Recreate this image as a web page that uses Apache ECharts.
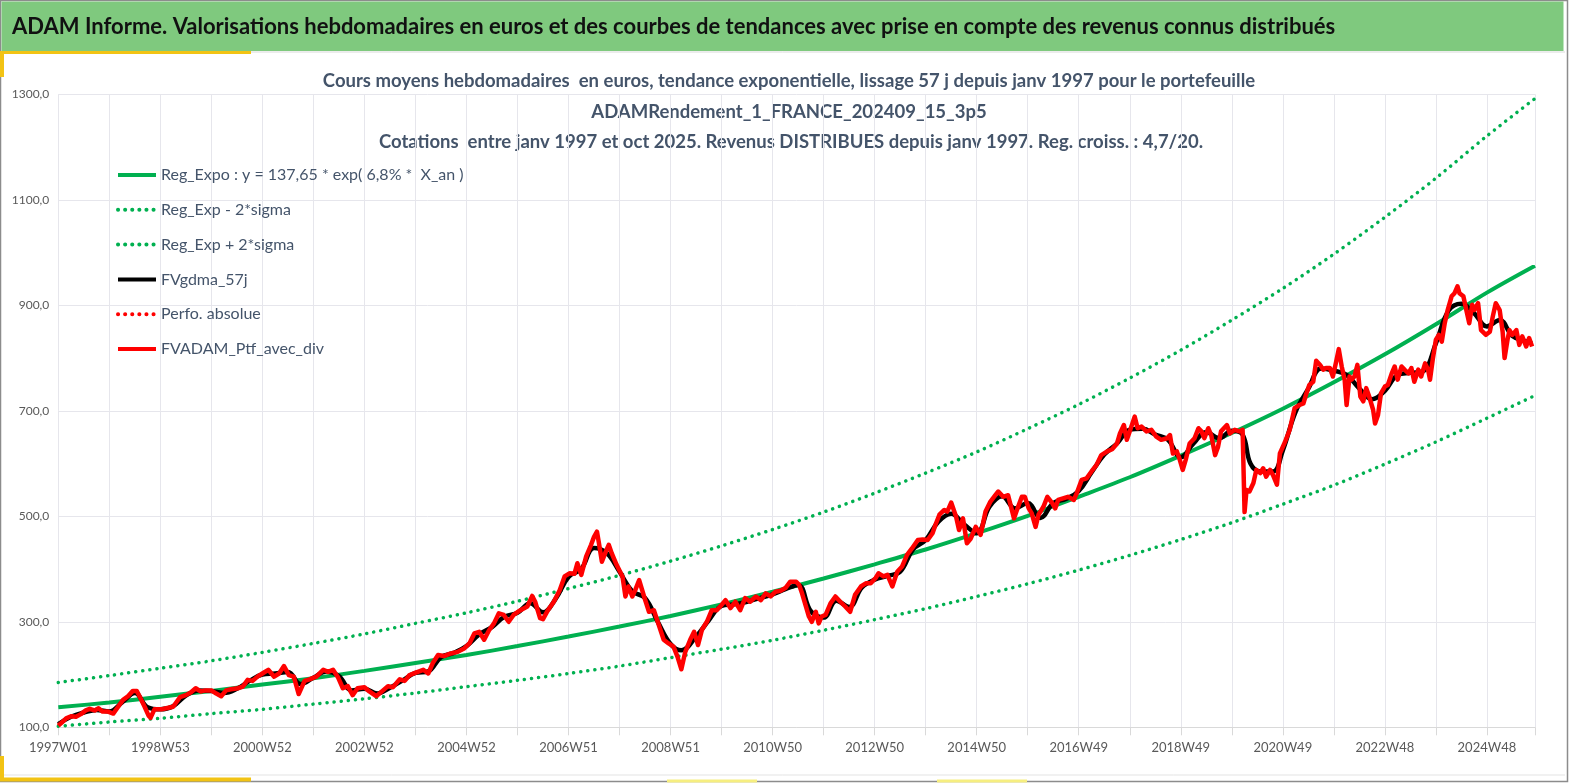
<!DOCTYPE html>
<html>
<head>
<meta charset="utf-8" />
<title>ADAM Informe</title>
<script src="https://cdn.jsdelivr.net/npm/echarts@6/dist/echarts.min.js"></script>
<style>
  html, body { margin: 0; padding: 0; background: #fff; }
  #chart { width: 1569px; height: 783px; }
</style>
</head>
<body>
<div id="chart"></div>
<script>
// x = numero de semaine depuis 1997W01
var xTickLabels = ['1997W01', '1998W53', '2000W52', '2002W52', '2004W52', '2006W51', '2008W51',
  '2010W50', '2012W50', '2014W50', '2016W49', '2018W49', '2020W49', '2022W48', '2024W48'];
var lastWeek = 1505;

// courbes de tendance (lues une fois par an)
var trendWeeks = [0, 52, 104, 156, 208, 260, 312, 364, 416, 468, 520, 572, 624, 676, 728,
  780, 832, 884, 936, 988, 1040, 1092, 1144, 1196, 1248, 1300, 1352, 1404, 1456, 1505];
var regExpo = [138, 147, 158, 169, 181, 193, 207, 222, 237, 254, 272, 291, 311, 333, 357,
  382, 409, 437, 468, 501, 537, 574, 615, 658, 704, 754, 807, 864, 924, 975];
var regMoins = [102, 110, 117, 126, 134, 144, 154, 165, 177, 189, 202, 216, 232, 248, 265,
  284, 304, 325, 348, 372, 398, 426, 456, 488, 523, 559, 599, 641, 686, 729];
var regPlus = [185, 198, 212, 226, 242, 259, 277, 297, 317, 339, 363, 388, 415, 444, 475,
  508, 544, 582, 622, 666, 712, 762, 815, 872, 932, 997, 1067, 1141, 1221, 1292];

// FVADAM_Ptf_avec_div : [semaine, valeur]
var ptf1997 = [[0,103],[4,110],[8,117],[13,121],[18,120],[23,125],[28,132],[32,135],[37,132],[41,136],
  [45,130],[50,130],[56,126],[61,139],[66,152],[71,159],[76,169],[80,169],[83,158],[88,139],[92,122],
  [94,118],[98,134],[105,134],[110,136],[117,139],[124,157],[130,161],[135,166],[140,174],[145,168],
  [150,170],[156,170],[161,164],[166,159],[171,170],[176,172],[183,174],[188,177],[193,190],[198,188],
  [203,196],[208,202],[214,209],[220,196],[225,202],[230,216],[235,199],[240,196],[245,163],[247,161],
  [251,188],[256,191],[263,196],[270,209],[275,205],[280,209],[285,195],[290,174],[295,178],[300,161],
  [305,174],[312,176],[317,168],[324,159],[331,170],[336,178],[341,176],[348,191],[353,188],[358,199],
  [365,204],[372,209],[377,202],[382,223],[387,237],[393,235],[400,240],[407,243],[414,250],[419,259],
  [424,278],[429,281],[434,266],[439,284],[444,297],[449,316],[454,313],[459,300],[464,313],[471,322],
  [478,329],[483,349],[486,338],[491,307]];
var ptf2006 = [[494,305],[499,322],[505,338],[511,360],[516,386],[521,392],[526,391],[529,411],[533,389],
  [538,424],[543,446],[546,461],[549,471],[551,449],[554,414],[558,433],[561,446],[564,430],[569,408],
  [575,386],[578,348],[581,367],[585,348],[588,360],[592,379],[597,348],[602,319],[607,322],[612,294],
  [617,266],[622,259],[627,253],[631,234],[635,210],[639,243],[644,266],[648,281],[652,256],[656,285],
  [661,300],[666,322],[671,322],[676,332],[680,341],[685,326],[690,338],[695,322],[700,345],[705,338],
  [711,348],[716,341],[721,354],[726,348],[731,357],[736,359],[741,364],[746,376],[752,376],[755,370],
  [758,354],[762,329],[765,310],[768,300],[772,319],[775,297],[778,310],[782,313],[787,335],[792,348],
  [797,338],[802,329],[807,319],[812,351],[818,367],[823,373],[828,373],[833,383],[836,392],[841,386],
  [845,389],[850,367],[855,395],[860,405],[865,427],[870,439],[876,455],[881,456],[886,455],[891,468],
  [894,484],[898,503],[903,512],[906,509],[910,526],[915,499],[918,474],[922,496],[926,449],[930,458],
  [935,480],[940,465],[945,509]];
var ptf2015 = [[950,528],[955,540],[958,547],[963,537],[968,540],[974,496],[977,512],[982,537],[985,537],
  [989,515],[992,506],[996,480],[999,503],[1004,518],[1008,537],[1013,525],[1016,515],[1019,531],[1024,534],
  [1029,537],[1035,531],[1038,544],[1043,569],[1048,572],[1053,585],[1058,597],[1063,616],[1069,623],
  [1074,627],[1079,638],[1082,657],[1086,673],[1089,645],[1092,661],[1097,689],[1100,667],[1104,670],
  [1109,661],[1114,664],[1119,651],[1124,645],[1130,648],[1133,654],[1136,619],[1140,623],[1143,607],
  [1146,588],[1149,607],[1153,638],[1158,648],[1162,667],[1165,661],[1168,648],[1172,667],[1175,654],
  [1179,616],[1182,632],[1185,661],[1191,673],[1194,657],[1199,664],[1204,661],[1207,664],[1209,508],
  [1211,550],[1214,547],[1218,563],[1221,588],[1225,582],[1228,591],[1231,575],[1235,588],[1238,578],
  [1242,560],[1245,619],[1250,640]];
var ptf2021 = [[1255,664],[1260,705],[1265,711],[1269,714],[1272,733],[1275,749],[1279,755],[1282,795],
  [1286,787],[1289,778],[1292,781],[1296,781],[1299,765],[1302,790],[1305,817],[1308,784],[1311,759],
  [1313,711],[1316,765],[1318,759],[1321,765],[1324,787],[1327,727],[1330,718],[1333,743],[1336,727],
  [1340,702],[1342,676],[1345,692],[1348,733],[1352,746],[1355,749],[1359,771],[1362,784],[1365,759],
  [1369,784],[1372,778],[1376,771],[1379,781],[1382,755],[1386,778],[1389,765],[1393,790],[1396,778],
  [1398,759],[1401,800],[1404,835],[1407,844],[1410,831],[1413,866],[1416,891],[1420,917],[1423,923],
  [1426,936],[1428,923],[1432,917],[1435,891],[1438,866],[1441,901],[1443,891],[1447,904],[1450,853],
  [1455,844],[1459,850],[1462,879],[1465,904],[1469,891],[1472,850],[1474,800],[1477,835],[1479,853],
  [1482,844],[1486,853],[1489,825],[1492,841],[1496,822],[1499,838],[1502,822]];

// FVgdma_57j (moyenne lissee), lue par trimestre
var gdma57 = [[0,106],[13,120],[26,128],[39,133],[52,130],[65,147],[78,165],[91,138],[104,134],[117,140],
  [130,160],[143,170],[156,169],[169,165],[182,173],[195,188],[208,200],[221,202],[234,205],[247,182],
  [260,194],[273,206],[286,197],[299,170],[312,173],[325,164],[338,175],[351,189],[364,203],[377,206],
  [390,233],[403,241],[416,254],[429,276],[442,290],[455,310],[468,317],[481,335],[494,318],[507,344],
  [520,385],[533,400],[546,440],[559,430],[572,395],[585,358],[598,345],[611,300],[624,258],[635,246],
  [650,272],[663,303],[676,330],[689,333],[702,338],[715,345],[728,352],[741,362],[754,370],[767,320],
  [780,308],[793,340],[806,328],[819,365],[832,380],[845,387],[858,395],[871,437],[884,455],[897,490],
  [910,505],[923,485],[936,468],[949,518],[962,538],[975,515],[988,525],[1001,497],[1014,525],[1027,533],
  [1040,548],[1053,583],[1066,617],[1079,638],[1092,664],[1105,666],[1118,655],[1131,645],[1144,612],
  [1157,638],[1170,660],[1183,648],[1196,662],[1207,655],[1215,600],[1225,585],[1238,585],[1248,625],
  [1261,698],[1274,742],[1287,780],[1300,776],[1313,768],[1326,742],[1339,722],[1352,738],[1365,768],
  [1378,772],[1391,775],[1404,828],[1417,890],[1430,903],[1443,885],[1456,860],[1469,872],[1482,842],
  [1495,832],[1502,828]];

function pairs(xs, ys) {
  return xs.map(function (x, i) { return [x, ys[i]]; });
}

var textColor = '#44546a';
var font = 'Lato, "Open Sans", sans-serif';
var greenCol = '#00b050';
var dotted = [0.1, 7];

var myChart = echarts.init(document.getElementById('chart'));
var option = {
  backgroundColor: '#ffffff',
  animation: false,
  textStyle: { fontFamily: font },
  graphic: [
    // cadre et bandeau vert
    { type: 'rect', shape: { x: 0.5, y: 0.5, width: 1567, height: 781 },
      style: { fill: '#ffffff', stroke: '#8c8c8c', lineWidth: 1.5 }, z: -10 },
    { type: 'rect', shape: { x: 1.5, y: 1.5, width: 1562, height: 49.5 },
      style: { fill: '#7fc97e' }, z: -9 },
    { type: 'line', shape: { x1: 0, y1: 52, x2: 1565, y2: 52 }, style: { stroke: '#d9d9d9', lineWidth: 1 }, z: -9 },
    { type: 'line', shape: { x1: 0, y1: 775, x2: 1565, y2: 775 }, style: { stroke: '#e3e3e3', lineWidth: 1 }, z: -9 },
    { type: 'line', shape: { x1: 0, y1: 52.5, x2: 251, y2: 52.5 }, style: { stroke: '#f2c314', lineWidth: 3 }, z: -8 },
    { type: 'line', shape: { x1: 2, y1: 52, x2: 2, y2: 77 }, style: { stroke: '#f2c314', lineWidth: 4 }, z: -8 },
    { type: 'line', shape: { x1: 2, y1: 756, x2: 2, y2: 780 }, style: { stroke: '#f2c314', lineWidth: 4 }, z: -8 },
    { type: 'line', shape: { x1: 0, y1: 779.5, x2: 251, y2: 779.5 }, style: { stroke: '#f2c314', lineWidth: 4 }, z: -8 },
    { type: 'line', shape: { x1: 667, y1: 781, x2: 757, y2: 781 }, style: { stroke: '#f6ee80', lineWidth: 3 }, z: -8 },
    { type: 'line', shape: { x1: 937, y1: 781, x2: 1027, y2: 781 }, style: { stroke: '#f6ee80', lineWidth: 3 }, z: -8 },
    // titres
    { type: 'text', style: { x: 12, y: 27, text: 'ADAM Informe. Valorisations hebdomadaires en euros et des courbes de tendances avec prise en compte des revenus connus distribués',
      fill: '#111111', font: 'bold 22px ' + font, verticalAlign: 'middle' } },
    { type: 'text', style: { x: 789, y: 81, text: 'Cours moyens hebdomadaires  en euros, tendance exponentielle, lissage 57 j depuis janv 1997 pour le portefeuille',
      fill: textColor, font: 'bold 18.5px ' + font, align: 'center', verticalAlign: 'middle' } },
    { type: 'text', style: { x: 789, y: 112, text: 'ADAMRendement_1_FRANCE_202409_15_3p5',
      fill: textColor, font: 'bold 18.5px ' + font, align: 'center', verticalAlign: 'middle' } },
    { type: 'text', style: { x: 791, y: 142, text: 'Cotations  entre janv 1997 et oct 2025. Revenus DISTRIBUES depuis janv 1997. Reg. croiss. : 4,7/20.',
      fill: textColor, font: 'bold 18.5px ' + font, align: 'center', verticalAlign: 'middle' } }
  ],
  legend: {
    orient: 'vertical',
    left: 116,
    top: 165,
    padding: 0,
    itemWidth: 38,
    itemHeight: 20,
    itemGap: 14.8,
    itemStyle: { opacity: 0 },
    lineStyle: { width: 4 },
    textStyle: { color: textColor, fontSize: 16, fontFamily: font, lineHeight: 20 },
    data: ['Reg_Expo : y = 137,65 * exp( 6,8% *  X_an )', 'Reg_Exp - 2*sigma', 'Reg_Exp + 2*sigma',
      'FVgdma_57j', 'Perfo. absolue', 'FVADAM_Ptf_avec_div']
  },
  grid: { left: 58.3, right: 34, top: 94.3, bottom: 55.7, containLabel: false },
  xAxis: {
    type: 'value',
    min: 0,
    max: lastWeek,
    interval: 52,
    axisLine: { lineStyle: { color: '#d9d9d9', width: 1 } },
    axisTick: { show: true, length: 8, lineStyle: { color: '#d9d9d9' } },
    axisLabel: {
      color: '#595959', fontSize: 13, margin: 14, fontFamily: font,
      formatter: function (v) { return v % 104 === 0 ? (xTickLabels[v / 104] || '') : ''; }
    },
    splitLine: { show: true, lineStyle: { color: '#e6e6ec', width: 1 } }
  },
  yAxis: {
    type: 'value',
    min: 100,
    max: 1300,
    interval: 200,
    axisLine: { show: false },
    axisTick: { show: false },
    axisLabel: {
      color: '#595959', fontSize: 12, margin: 9, fontFamily: font,
      formatter: function (v) { return v.toFixed(1).replace('.', ','); }
    },
    splitLine: { lineStyle: { color: '#e6e6ec', width: 1 } }
  },
  series: [
    { name: 'Reg_Expo : y = 137,65 * exp( 6,8% *  X_an )', type: 'line', symbol: 'none', smooth: 0.3,
      data: pairs(trendWeeks, regExpo), lineStyle: { color: greenCol, width: 4 }, itemStyle: { color: greenCol } },
    { name: 'Reg_Exp - 2*sigma', type: 'line', symbol: 'none', smooth: 0.3,
      data: pairs(trendWeeks, regMoins),
      lineStyle: { color: greenCol, width: 3.5, type: dotted, cap: 'round' }, itemStyle: { color: greenCol } },
    { name: 'Reg_Exp + 2*sigma', type: 'line', symbol: 'none', smooth: 0.3,
      data: pairs(trendWeeks, regPlus),
      lineStyle: { color: greenCol, width: 3.5, type: dotted, cap: 'round' }, itemStyle: { color: greenCol } },
    { name: 'FVgdma_57j', type: 'line', symbol: 'none', smooth: 0.4,
      data: gdma57, lineStyle: { color: '#000000', width: 4.5 }, itemStyle: { color: '#000000' } },
    { name: 'Perfo. absolue', type: 'line', symbol: 'none',
      data: [], lineStyle: { color: '#ff0000', width: 3.5, type: dotted, cap: 'round' }, itemStyle: { color: '#ff0000' } },
    { name: 'FVADAM_Ptf_avec_div', type: 'line', symbol: 'none',
      data: ptf1997.concat(ptf2006, ptf2015, ptf2021),
      lineStyle: { color: '#ff0000', width: 4.5, join: 'round' }, itemStyle: { color: '#ff0000' } }
  ]
};
myChart.setOption(option);
</script>
</body>
</html>
